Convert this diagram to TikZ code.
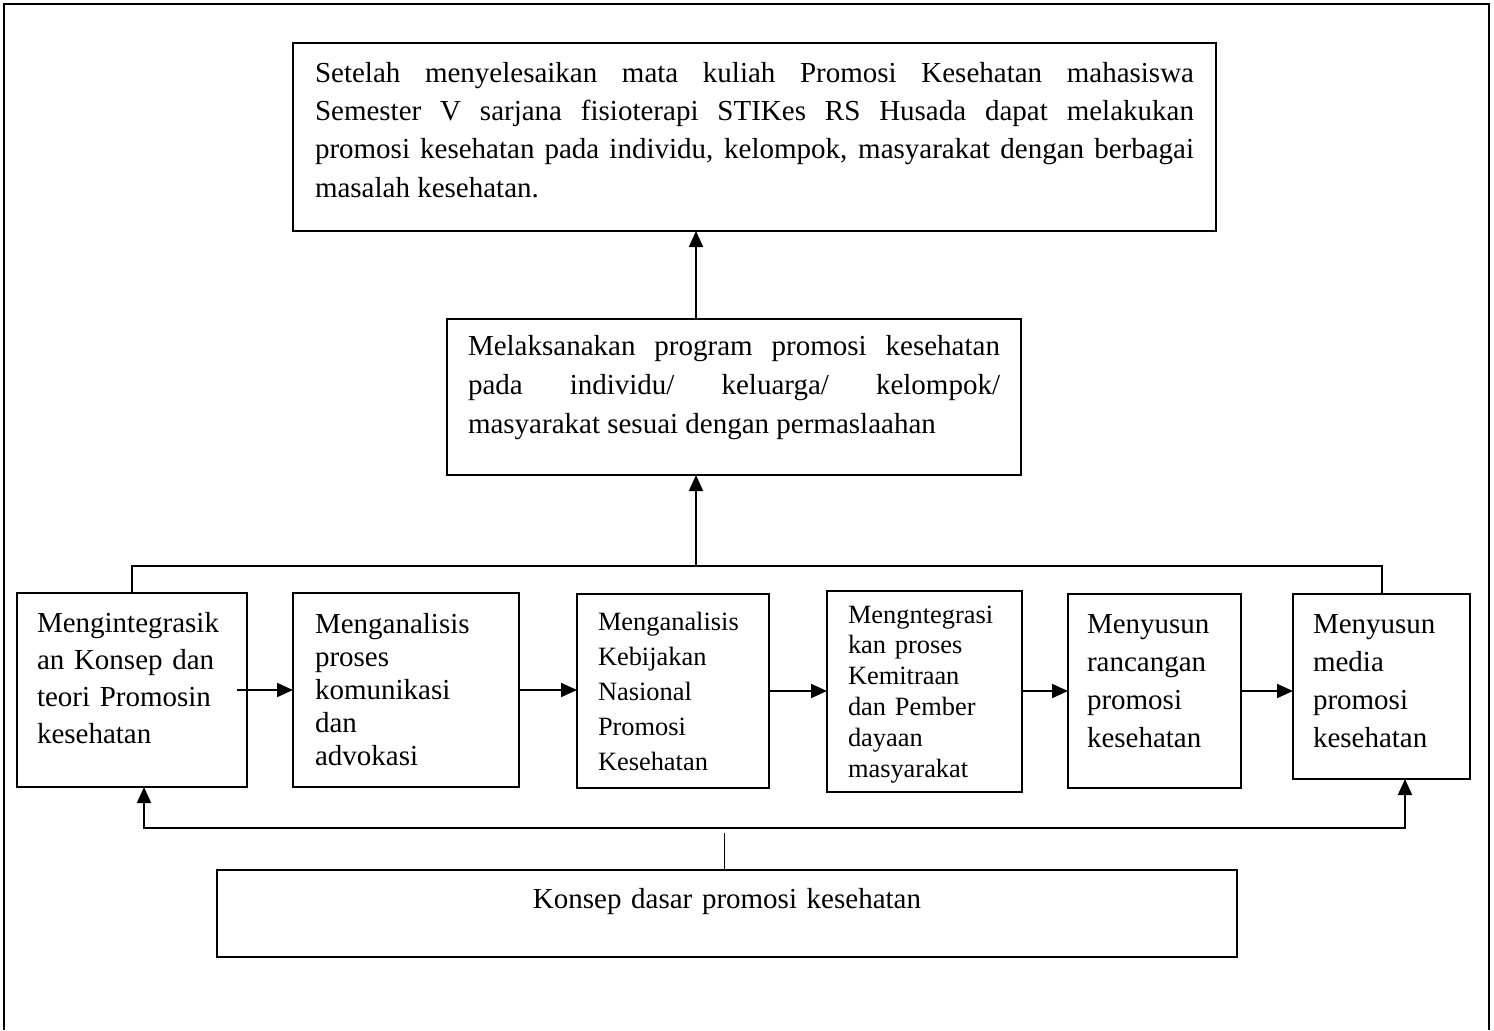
\documentclass[tikz,border=0pt]{standalone}
\usepackage{fontspec}
\setmainfont{Liberation Serif}
\usetikzlibrary{arrows.meta}

\begin{document}
\begin{tikzpicture}
  [x=0.5pt, y=-0.5pt, line width=1pt,
    >={Triangle[length=8pt,width=7pt]},
    kotak/.style={%
      draw, rectangle, anchor=north west, outer sep=0pt, inner ysep=0pt,
      align=left, font=\fontsize{14.5pt}{19pt}\selectfont
    },
    kotakkecil/.style={%
      kotak, font=\fontsize{13.2pt}{17.5pt}\selectfont
    },
  ]

  \useasboundingbox (0,0) rectangle (1494,1030);
  \draw (4,1030) -- (4,4) -- (1489,4) -- (1489,1030);

  \node[kotak, align=justify, inner xsep=11pt, text width=439.5pt,
    font=\fontsize{14.5pt}{19.2pt}\selectfont,
    text height=19.5pt, text depth=74.5pt] (tujuan) at (293,43)
    {Setelah menyelesaikan mata kuliah Promosi Kesehatan mahasiswa\linebreak
     Semester V sarjana fisioterapi STIKes RS Husada dapat melakukan\linebreak
     promosi kesehatan pada individu, kelompok, masyarakat dengan berbagai\linebreak
     masalah kesehatan.};

  \node[kotak, align=justify, inner xsep=10.5pt, text width=266pt,
    font=\fontsize{14.5pt}{19.5pt}\selectfont,
    text height=18pt, text depth=60pt] (tengah) at (447,319)
    {Melaksanakan program promosi kesehatan\linebreak
     pada individu/ keluarga/ kelompok/\linebreak
     masyarakat sesuai dengan permaslaahan};

  \node[kotak, inner xsep=10pt, text width=95pt,
    font=\fontsize{14.5pt}{18.65pt}\selectfont,
    text height=19.5pt, text depth=77.5pt] (b1) at (17,593)
    {Mengintegrasik\\an Konsep dan\\teori Promosin\\kesehatan};
  \node[kotak, inner xsep=11pt, text width=91pt,
    font=\fontsize{14.5pt}{16.5pt}\selectfont,
    text height=20pt, text depth=77pt] (b2) at (293,593)
    {Menganalisis\\proses\\komunikasi\\dan\\advokasi};
  \node[kotakkecil, inner xsep=10.5pt, text width=75pt,
    text height=18pt, text depth=79pt] (b3) at (577,594)
    {Menganalisis\\Kebijakan\\Nasional\\Promosi\\Kesehatan};
  \node[kotakkecil, inner xsep=10.5pt, text width=76.5pt,
    font=\fontsize{13.2pt}{15.4pt}\selectfont,
    text height=16pt, text depth=84.5pt] (b4) at (827,591)
    {Mengntegrasi\\kan proses\\Kemitraan\\dan Pember\\dayaan\\masyarakat};
  \node[kotak, inner xsep=9.5pt, text width=67.5pt,
    text height=19.5pt, text depth=77.5pt] (b5) at (1068,594)
    {Menyusun\\rancangan\\promosi\\kesehatan};
  \node[kotak, inner xsep=10pt, text width=68.5pt,
    text height=19.5pt, text depth=73pt] (b6) at (1293,594)
    {Menyusun\\media\\promosi\\kesehatan};

  \node[kotak, align=center, inner xsep=10pt, text width=490pt,
    text height=19pt, text depth=24.5pt] (dasar) at (217,870)
    {Konsep dasar promosi kesehatan};

  % garis ke atas
  \coordinate (atas) at (696,566);
  \draw (b1.north) -- (b1.north |- atas) -- (b6.north |- atas) -- (b6.north);
  \draw[->] (atas) -- (atas |- tengah.south);
  \draw[->] (atas |- tengah.north) -- (atas |- tujuan.south);

  % panah antar kotak
  \draw[->] ([xshift=-5pt]b1.east) -- (b1.east -| b2.west);
  \draw[->] (b2.east) -- (b2.east -| b3.west);
  \draw[->] (b3.east) -- (b3.east -| b4.west);
  \draw[->] (b4.east |- b3.east) -- (b3.east -| b5.west);
  \draw[->] (b5.east) -- (b5.east -| b6.west);

  % garis bawah
  \coordinate (kiri) at (144,828);
  \coordinate (kanan) at (1405,828);
  \coordinate (konsep) at (724,833);
  \draw[<->] (kiri |- b1.south) -- (kiri) -- (kanan) -- (kanan |- b6.south);
  \draw[line width=0.5pt] (konsep) -- (konsep |- dasar.north);

\end{tikzpicture}
\end{document}
